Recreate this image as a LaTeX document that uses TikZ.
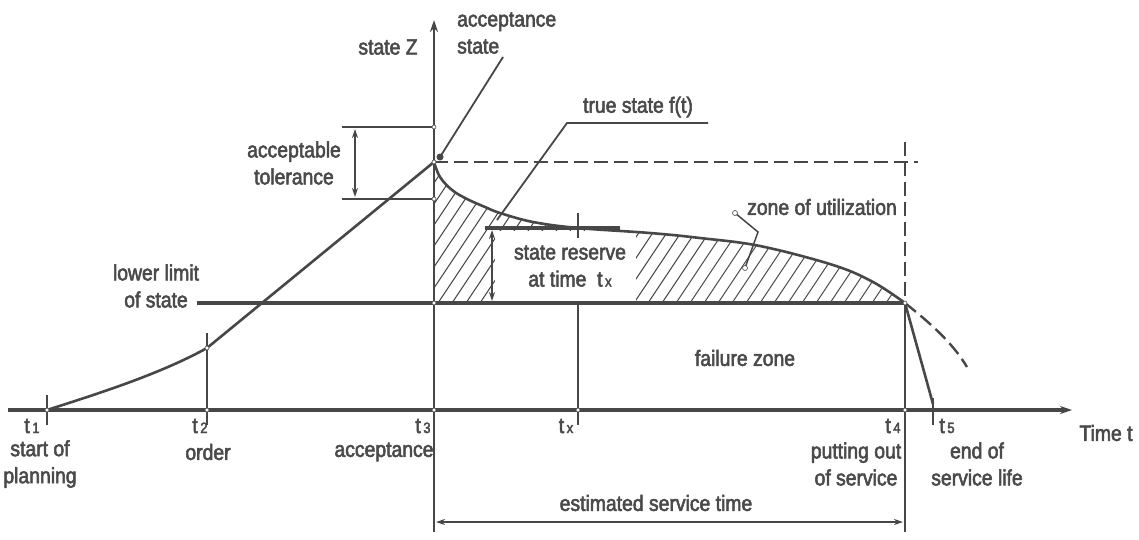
\documentclass[tikz,border=0pt]{standalone}
\usepackage{fontspec}
\setmainfont[FakeStretch=0.88,FakeBold=2.5]{Liberation Sans}
\usetikzlibrary{arrows.meta}
\definecolor{lc}{HTML}{474747}
\definecolor{tc}{HTML}{4a4a4a}
\begin{document}
\begin{tikzpicture}[x=1pt,y=-1pt,
  lab/.style={text=tc,font=\fontsize{22}{27}\selectfont,inner sep=0pt,align=center},
  ln/.style={draw=lc,line width=2.6pt},
  thick ln/.style={draw=lc,line width=3.2pt},
  hatch/.style={draw=lc,line width=1pt},
  dsh/.style={draw=lc,line width=2.4pt,dash pattern=on 14pt off 6pt},
  tip/.style={-{Stealth[length=12pt,width=8pt]}},
  dtip/.style={{Stealth[length=9pt,width=6pt]}-{Stealth[length=9pt,width=6pt]}},
  wdot/.style={circle,fill=white,draw=lc,line width=0.6pt,minimum size=4pt,inner sep=0pt}]
\useasboundingbox[fill=white] (0,0) rectangle (1139,539);
% key coordinates
\coordinate (t1) at (47,410);
\coordinate (t2) at (207,410);
\coordinate (t3) at (434,410);
\coordinate (tx) at (578,410);
\coordinate (t4) at (905,410);
\coordinate (t5) at (933,410);
\coordinate (xs) at (8,410);
\coordinate (xe) at (1072,410);
\coordinate (ytop) at (434,20);
\coordinate (ybot) at (434,532);
\coordinate (P2) at (207,348);
\coordinate (A) at (434,162);
\coordinate (L3) at (434,303);
\coordinate (L4) at (905,303);
\coordinate (Ls) at (197,303);
% hatch
\begin{scope}
\clip plot[smooth,tension=0.6] coordinates {(434,162) (440,177) (452,190) (467,199) (485,207) (500,213) (533,222) (578,228) (650,233) (700,238) (760,246) (833,265) (873,282) (905,303)} -- (L3) -- cycle;
\foreach \x in {340,354,...,910} \draw[hatch] (\x,303) -- ++(100,-150);
\end{scope}
% white area behind state reserve text
\fill[white] (495,231) rectangle (636,301);
% curve f(t)
\draw[ln] plot[smooth,tension=0.6] coordinates {(434,162) (440,177) (452,190) (467,199) (485,207) (500,213) (533,222) (578,228) (650,233) (700,238) (760,246) (833,265) (873,282) (905,303)};
% axes
\draw[thick ln,tip] (xs) -- (xe);
\draw[ln,line width=2.8pt,tip] (ybot) -- (ytop);
% lower limit
\draw[thick ln] (Ls) -- (L4);
% rising curve
\draw[ln] (t1) .. controls (100,393) and (160,374) .. (P2) -- (A);
% tolerance
\coordinate (T1) at (434,127);
\coordinate (T2) at (434,199);
\draw[ln] (342,127) -- (T1);
\draw[ln] (342,199) -- (T2);
\draw[ln,line width=2pt,dtip] (355,129) -- (355,197);
% dashed acceptance level
\coordinate (D1) at (918,162);
\draw[dsh] (A) -- (D1);
\draw[dsh] (905,142) -- (L4);
% t4 vertical
\draw[ln] (L4) -- (905,532);
% ticks
\draw[ln] (47,395) -- (47,425);
\draw[ln] (207,333) -- (207,425);
\draw[ln] (578,303) -- (578,425);
\draw[ln,line width=1.2pt] (578,213) -- (578,238);
\draw[ln] (933,398) -- (933,425);
% after t4
\draw[dsh] (L4) .. controls (930,323) and (952,342) .. (967,367);
\draw[ln] (L4) -- (933,404);
% state reserve
\draw[thick ln] (485,228) -- (620,228);
\draw[ln,line width=2pt,dtip] (492,230) -- (492,301);
% estimated service time
\draw[ln,line width=2pt,dtip] (436,522) -- (903,522);
% leaders
\draw[ln,line width=1.8pt] (503,57) -- (440,157);
\fill[lc] (440,157) circle (3.5pt);
\draw[ln,line width=1.8pt] (708,123) -- (567,123) -- (497,220);
\draw[ln,line width=1.5pt] (735,213) -- (758,232) -- (745,268);
\node[wdot,minimum size=5pt] at (735,213) {};
\node[wdot,minimum size=5pt] at (745,268) {};
% small open dots
\foreach \p in {(434,127),(434,199),(A),(L3),(t3),(P2),(t2),(t1),(tx),(t4),(L4)} \node[wdot] at \p {};
% labels
\node[lab] (sz) at (388,47) {state Z};
\node[lab,align=left,anchor=west] (as) at (457,33) {acceptance\\state};
\node[lab] (at) at (294,163) {acceptable\\tolerance};
\node[lab] (ts) at (638,107) {true state f(t)};
\node[lab] (ll) at (156,286) {lower limit\\of state};
\node[lab] (sr) at (570,266) {state reserve\\at time\ \ t{\fontsize{15}{15}\selectfont\,x}};
\node[lab] (zu) at (822,207) {zone of utilization};
\node[lab] (fz) at (745,358) {failure zone};
\node[lab] (l1) at (32,426) {t{\fontsize{15}{15}\selectfont\,1}};
\node[lab] (l2) at (200,426) {t{\fontsize{15}{15}\selectfont\,2}};
\node[lab] (l3) at (423,426) {t{\fontsize{15}{15}\selectfont\,3}};
\node[lab] (lx) at (566,426) {t{\fontsize{15}{15}\selectfont\,x}};
\node[lab] (l4) at (893,426) {t{\fontsize{15}{15}\selectfont\,4}};
\node[lab] (l5) at (947,426) {t{\fontsize{15}{15}\selectfont\,5}};
\node[lab] (tt) at (1106,433) {Time t};
\node[lab] (sp) at (40,464) {start of\\planning};
\node[lab] (od) at (208,452) {order};
\node[lab] (ac) at (384,452) {acceptance};
\node[lab] (po) at (856,464) {putting out\\of service};
\node[lab] (es) at (977,464) {end of\\service life};
\node[lab] (est) at (656,503) {estimated service time};
\end{tikzpicture}
\end{document}
